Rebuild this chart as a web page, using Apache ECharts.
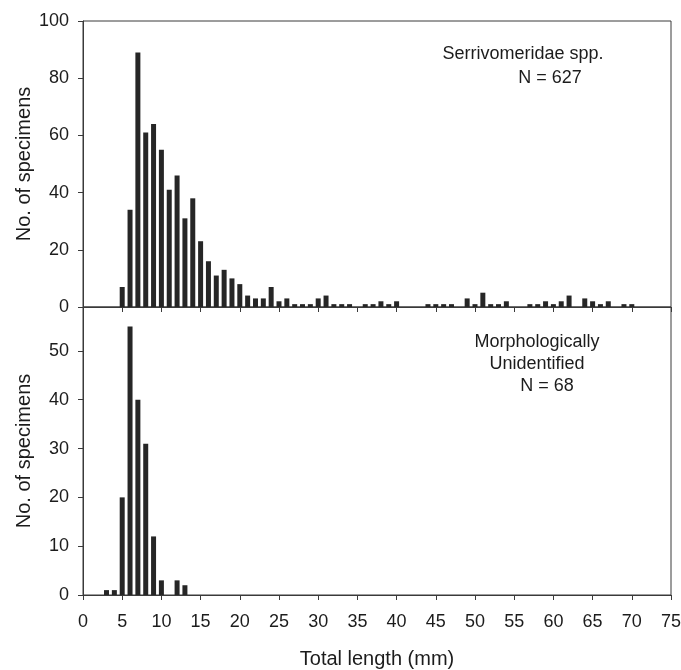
<!DOCTYPE html>
<html>
<head>
<meta charset="utf-8">
<script src="https://cdn.jsdelivr.net/npm/echarts@6/dist/echarts.min.js"></script>
<style>html,body{margin:0;padding:0;background:#fff;}#c{width:681px;height:670px;}</style>
</head>
<body>
<div id="c"></div>
<script>
// Top panel: Serrivomeridae spp. (length mm -> count)
const serriLengths = [5,6,7,8,9,10,11,12,13,14,15,16,17,18,19,20,21,22,23,24,25,26,27,28,29,30,31,32,33,34,36,37,38,39,40,44,45,46,47,49,50,51,52,53,54,57,58,59,60,61,62,64,65,66,67,69,70];
const serriCounts  = [7,34,89,61,64,55,41,46,31,38,23,16,11,13,10,8,4,3,3,7,2,3,1,1,1,3,4,1,1,1,1,1,2,1,2,1,1,1,1,3,1,5,1,1,2,1,1,2,1,2,4,3,2,1,2,1,1];
// Bottom panel: Morphologically unidentified
const morphLengths = [3,4,5,6,7,8,9,10,12,13];
const morphCounts  = [1,1,20,55,40,31,12,3,3,2];
const xTicks = [0,5,10,15,20,25,30,35,40,45,50,55,60,65,70,75];
const yTicksTop = [0,20,40,60,80,100];
const yTicksBottom = [0,10,20,30,40,50];

const FONT = "'Liberation Sans', Arial, sans-serif";
const TXT = '#1c1c1c';
const LINE = '#3a3a3a';

function pairs(xs, ys){ return xs.map((x,i)=>[x, ys[i]]); }

const chart = echarts.init(document.getElementById('c'));
const baseX = {
  type:'value', min:0, max:75, interval:5,
  axisLine:{show:true, onZero:false, lineStyle:{color:LINE, width:1}},
  axisTick:{show:true, inside:false, length:5, lineStyle:{color:LINE}},
  splitLine:{show:false}
};
const baseY = {
  type:'value', min:0,
  axisLine:{show:true, lineStyle:{color:LINE, width:1}},
  axisTick:{show:true, inside:false, length:5, lineStyle:{color:LINE}},
  splitLine:{show:false},
  axisLabel:{color:TXT, fontSize:18, fontFamily:FONT, margin:14},
  name:'No. of specimens', nameLocation:'middle', nameMoveOverlap:false,
  nameTextStyle:{color:TXT, fontSize:20, fontFamily:FONT}
};
chart.setOption({
  animation:false,
  backgroundColor:'#ffffff',
  grid:[
    {left:83, right:10, top:21, height:286, show:true, borderColor:LINE, borderWidth:1, containLabel:false, outerBoundsMode:'none'},
    {left:83, right:10, top:307, height:288, show:true, borderColor:LINE, borderWidth:1, containLabel:false, outerBoundsMode:'none'}
  ],
  xAxis:[
    Object.assign({}, baseX, {gridIndex:0, axisLabel:{show:false}}),
    Object.assign({}, baseX, {gridIndex:1,
      axisLabel:{show:true, color:TXT, fontSize:18, fontFamily:FONT, margin:18, customValues:xTicks},
      name:'Total length (mm)', nameLocation:'middle', nameGap:54, nameMoveOverlap:false,
      nameTextStyle:{color:TXT, fontSize:20, fontFamily:FONT}})
  ],
  yAxis:[
    Object.assign({}, baseY, {gridIndex:0, max:100, interval:20, nameGap:49,
      axisLabel:Object.assign({}, baseY.axisLabel, {customValues:yTicksTop}),
      axisTick:Object.assign({}, baseY.axisTick, {customValues:yTicksTop})}),
    Object.assign({}, baseY, {gridIndex:1, max:59, interval:10, nameGap:49,
      axisLabel:Object.assign({}, baseY.axisLabel, {customValues:yTicksBottom}),
      axisTick:Object.assign({}, baseY.axisTick, {customValues:yTicksBottom})})
  ],
  series:[
    {type:'bar', xAxisIndex:0, yAxisIndex:0, data:pairs(serriLengths, serriCounts), barWidth:5,
     itemStyle:{color:'#262626'}},
    {type:'bar', xAxisIndex:1, yAxisIndex:1, data:pairs(morphLengths, morphCounts), barWidth:5,
     itemStyle:{color:'#262626'}}
  ],
  graphic:[
    {type:'text', style:{text:'Serrivomeridae spp.', x:523, y:54, textAlign:'center', textVerticalAlign:'middle', fontSize:18, fontFamily:FONT, fill:TXT}},
    {type:'text', style:{text:'N = 627', x:550, y:78, textAlign:'center', textVerticalAlign:'middle', fontSize:18, fontFamily:FONT, fill:TXT}},
    {type:'text', style:{text:'Morphologically', x:537, y:342, textAlign:'center', textVerticalAlign:'middle', fontSize:18, fontFamily:FONT, fill:TXT}},
    {type:'text', style:{text:'Unidentified', x:537, y:364, textAlign:'center', textVerticalAlign:'middle', fontSize:18, fontFamily:FONT, fill:TXT}},
    {type:'text', style:{text:'N = 68', x:547, y:386, textAlign:'center', textVerticalAlign:'middle', fontSize:18, fontFamily:FONT, fill:TXT}}
  ]
});
</script>
</body>
</html>
